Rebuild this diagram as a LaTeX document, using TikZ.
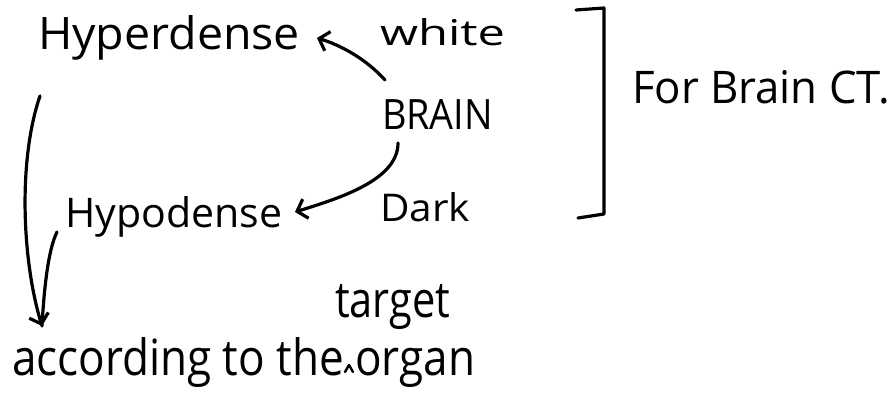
\documentclass[tikz,border=0pt]{standalone}
\usepackage{fontspec}
\setmainfont{Open Sans}
\usetikzlibrary{arrows.meta}
\tikzset{
  ink/.style={line width=3.2pt, line cap=round, line join=round, black},
  arr/.style={ink, -{Straight Barb[length=9pt,width=20pt,line width=3.2pt]}},
  word/.style={anchor=base west, inner sep=0pt, outer sep=0pt}
}
% word set to a given width and height above the baseline
\newcommand{\hw}[3]{\resizebox{#1pt}{#2pt}{#3}}
\begin{document}
\begin{tikzpicture}[x=1pt,y=-1pt]
  \useasboundingbox (0,0) rectangle (895,414);

  % words
  \node[word] (hyper) at (38,50)  {\hw{262}{34}{Hyperdense}};
  \node[word] (white) at (380,46) {\hw{125}{27}{white}};
  \node[word] (brain) at (382,130) {\hw{111}{30}{BRAIN}};
  \node[word] (hypo)  at (65,228) {\hw{217}{31}{Hypodense}};
  \node[word] (dark)  at (380,222) {\hw{90}{29}{Dark}};
  \node[word] (forct) at (632,104) {\hw{258}{33}{For Brain CT.}};
  \node[word] (organ) at (12,375) {\hw{463}{38}{according to the organ}};
  \node[word] (target) at (335,318) {\hw{115}{33}{target}};

  % connector end points
  \coordinate (bup)   at (385,80);
  \coordinate (hypertip) at (317,38);
  \coordinate (bdown) at (398,143);
  \coordinate (hypotip) at (295,212);
  \coordinate (hyperfoot) at (40,96);
  \coordinate (hypofoot) at (57,232);
  \coordinate (organtip) at (42,326);

  % BRAIN -> Hyperdense / Hypodense
  \draw[arr] (bup) .. controls (365,58) and (340,45) .. (hypertip);
  \draw[arr] (bdown) .. controls (398,180) and (340,198) .. (hypotip);

  % both lead down to the organ line
  \draw[arr] (hyperfoot) .. controls (18,160) and (22,260) .. (organtip);
  \draw[ink] (hypofoot) .. controls (48,250) and (44,290) .. (organtip);

  % bracket grouping the brain notes
  \draw[ink] (576,10) -- (604,8) -- (604,214) -- (578,218);

  % insertion caret for "target"
  \draw[ink, line width=2.4pt] (345,372) -- (349,365) -- (353,372);
\end{tikzpicture}
\end{document}
